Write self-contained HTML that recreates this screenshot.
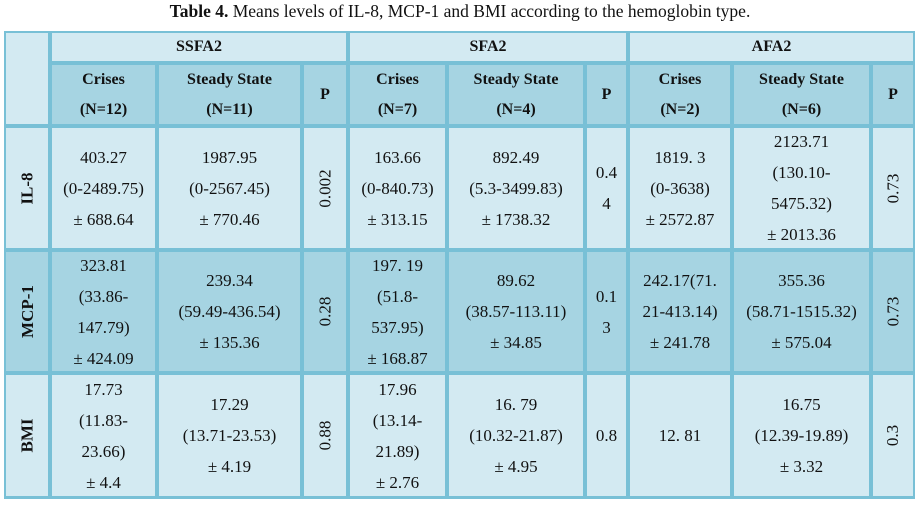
<!DOCTYPE html><html><head><style>
body{margin:0;background:#fff;width:920px;height:505px;position:relative;font-family:"Liberation Serif",serif;color:#111;overflow:hidden}
.t{position:absolute;top:1px;left:0;width:920px;text-align:center;font-size:17.5px}
.bg{position:absolute;left:4px;top:31px;width:911px;height:468px;background:#78c0d6}
.c{position:absolute;display:flex;align-items:center;justify-content:center;text-align:center;font-size:17px;line-height:31px}
.h{font-size:16px;line-height:30px}
.l{background:#d3eaf2}.d{background:#a6d4e2}
b{font-weight:bold}
.r{transform:rotate(-90deg);white-space:nowrap}
</style></head><body>
<div class="t"><b>Table 4.</b> Means levels of IL-8, MCP-1 and BMI according to the hemoglobin type.</div>
<div class="bg"></div>
<div class="c l" style="left:6px;top:33px;width:42px;height:91px"></div>
<div class="c l h" style="left:52px;top:33px;width:294px;height:28px"><b>SSFA2</b></div>
<div class="c l h" style="left:350px;top:33px;width:276px;height:28px"><b>SFA2</b></div>
<div class="c l h" style="left:630px;top:33px;width:283px;height:28px"><b>AFA2</b></div>

<div class="c d h" style="left:52px;top:65px;width:103px;height:59px"><b>Crises<br>(N=12)</b></div>
<div class="c d h" style="left:159px;top:65px;width:141px;height:59px"><b>Steady State<br>(N=11)</b></div>
<div class="c d h" style="left:304px;top:65px;width:42px;height:59px"><b>P</b></div>
<div class="c d h" style="left:350px;top:65px;width:95px;height:59px"><b>Crises<br>(N=7)</b></div>
<div class="c d h" style="left:449px;top:65px;width:134px;height:59px"><b>Steady State<br>(N=4)</b></div>
<div class="c d h" style="left:587px;top:65px;width:39px;height:59px"><b>P</b></div>
<div class="c d h" style="left:630px;top:65px;width:100px;height:59px"><b>Crises<br>(N=2)</b></div>
<div class="c d h" style="left:734px;top:65px;width:135px;height:59px"><b>Steady State<br>(N=6)</b></div>
<div class="c d h" style="left:873px;top:65px;width:40px;height:59px"><b>P</b></div>

<div class="c l" style="left:6px;top:128px;width:42px;height:120px"><b class="r">IL-8</b></div>
<div class="c l" style="left:52px;top:128px;width:103px;height:120px">403.27<br>(0-2489.75)<br>± 688.64</div>
<div class="c l" style="left:159px;top:128px;width:141px;height:120px">1987.95<br>(0-2567.45)<br>± 770.46</div>
<div class="c l" style="left:304px;top:128px;width:42px;height:120px"><span class="r">0.002</span></div>
<div class="c l" style="left:350px;top:128px;width:95px;height:120px">163.66<br>(0-840.73)<br>± 313.15</div>
<div class="c l" style="left:449px;top:128px;width:134px;height:120px">892.49<br>(5.3-3499.83)<br>± 1738.32</div>
<div class="c l" style="left:587px;top:128px;width:39px;height:120px">0.4<br>4</div>
<div class="c l" style="left:630px;top:128px;width:100px;height:120px">1819. 3<br>(0-3638)<br>± 2572.87</div>
<div class="c l" style="left:734px;top:128px;width:135px;height:120px">2123.71<br>(130.10-<br>5475.32)<br>± 2013.36</div>
<div class="c l" style="left:873px;top:128px;width:40px;height:120px"><span class="r">0.73</span></div>

<div class="c d" style="left:6px;top:252px;width:42px;height:119px"><b class="r">MCP-1</b></div>
<div class="c d" style="left:52px;top:252px;width:103px;height:119px">323.81<br>(33.86-<br>147.79)<br>± 424.09</div>
<div class="c d" style="left:159px;top:252px;width:141px;height:119px">239.34<br>(59.49-436.54)<br>± 135.36</div>
<div class="c d" style="left:304px;top:252px;width:42px;height:119px"><span class="r">0.28</span></div>
<div class="c d" style="left:350px;top:252px;width:95px;height:119px">197. 19<br>(51.8-<br>537.95)<br>± 168.87</div>
<div class="c d" style="left:449px;top:252px;width:134px;height:119px">89.62<br>(38.57-113.11)<br>± 34.85</div>
<div class="c d" style="left:587px;top:252px;width:39px;height:119px">0.1<br>3</div>
<div class="c d" style="left:630px;top:252px;width:100px;height:119px">242.17(71.<br>21-413.14)<br>± 241.78</div>
<div class="c d" style="left:734px;top:252px;width:135px;height:119px">355.36<br>(58.71-1515.32)<br>± 575.04</div>
<div class="c d" style="left:873px;top:252px;width:40px;height:119px"><span class="r">0.73</span></div>

<div class="c l" style="left:6px;top:375px;width:42px;height:121px"><b class="r">BMI</b></div>
<div class="c l" style="left:52px;top:375px;width:103px;height:121px">17.73<br>(11.83-<br>23.66)<br>± 4.4</div>
<div class="c l" style="left:159px;top:375px;width:141px;height:121px">17.29<br>(13.71-23.53)<br>± 4.19</div>
<div class="c l" style="left:304px;top:375px;width:42px;height:121px"><span class="r">0.88</span></div>
<div class="c l" style="left:350px;top:375px;width:95px;height:121px">17.96<br>(13.14-<br>21.89)<br>± 2.76</div>
<div class="c l" style="left:449px;top:375px;width:134px;height:121px">16. 79<br>(10.32-21.87)<br>± 4.95</div>
<div class="c l" style="left:587px;top:375px;width:39px;height:121px">0.8</div>
<div class="c l" style="left:630px;top:375px;width:100px;height:121px">12. 81</div>
<div class="c l" style="left:734px;top:375px;width:135px;height:121px">16.75<br>(12.39-19.89)<br>± 3.32</div>
<div class="c l" style="left:873px;top:375px;width:40px;height:121px"><span class="r">0.3</span></div>
</body></html>
